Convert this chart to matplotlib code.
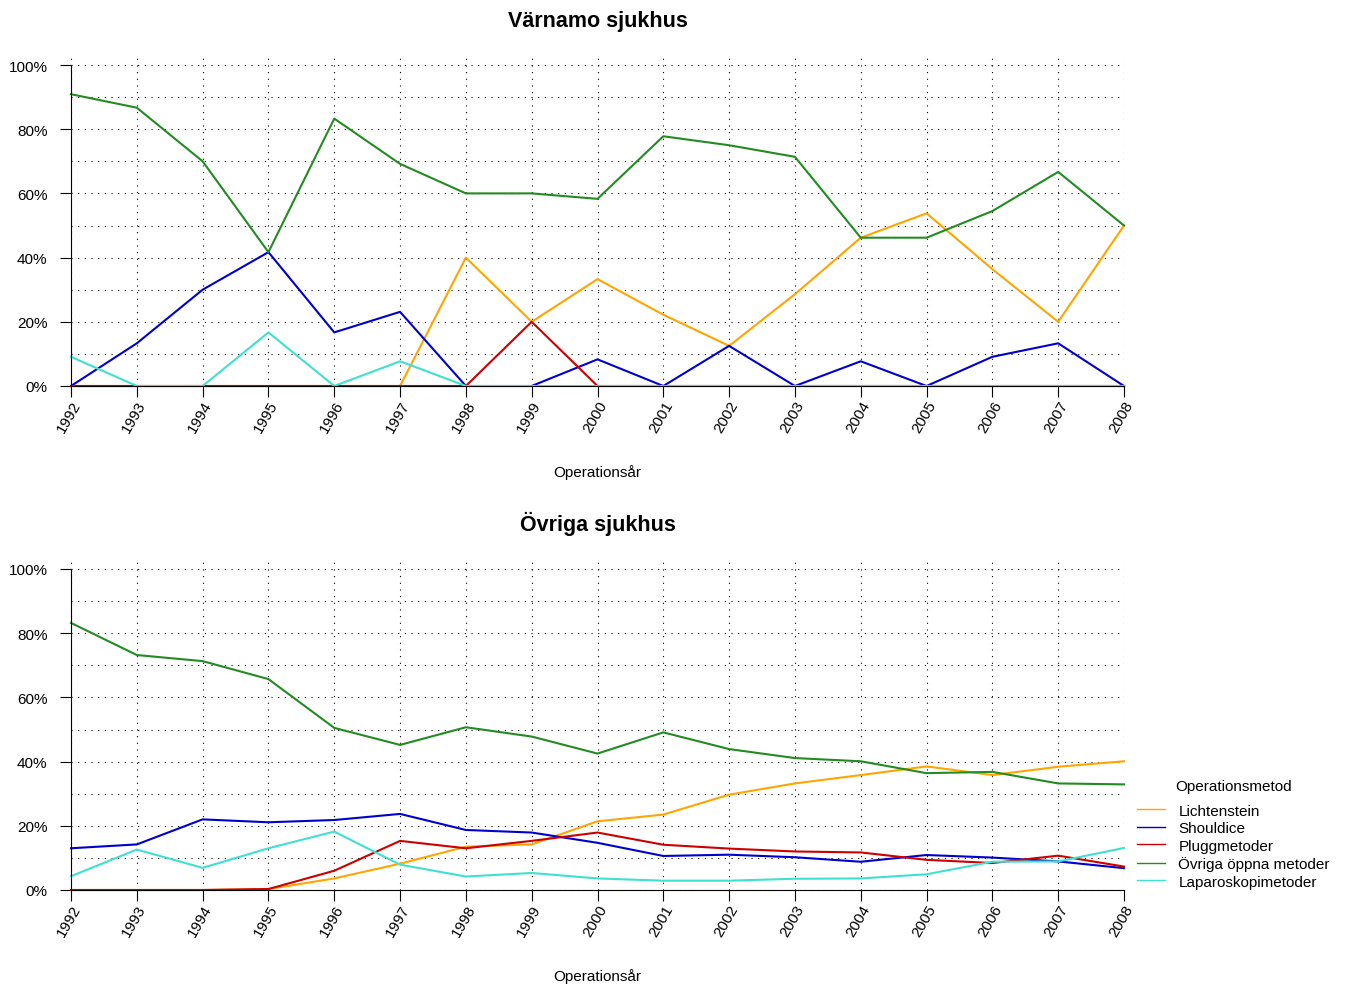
import matplotlib
matplotlib.use("Agg")
import matplotlib.pyplot as plt
from matplotlib.ticker import FuncFormatter, MultipleLocator

plt.rcParams['font.family'] = ['Liberation Sans', 'DejaVu Sans']

years = list(range(1992, 2009))
methods = ["Lichtenstein", "Shouldice", "Pluggmetoder", "Övriga öppna metoder", "Laparoskopimetoder"]
colors = ["#FFA500", "#0000CD", "#CD0000", "#228B22", "#40E0D0"]

# Värnamo sjukhus (%)
varnamo_lichtenstein = [0, 0, 0, 0, 0, 0, 40, 20, 33.3, 22.2, 12.5, 28.6, 46.2, 53.8, 36.4, 20, 50]
varnamo_shouldice = [0, 13.3, 30, 41.7, 16.7, 23.1, 0, 0, 8.3, 0, 12.5, 0, 7.7, 0, 9.1, 13.3, 0]
varnamo_plugg = [0, 0, 0, 0, 0, 0, 0, 20, 0, 0, 0, 0, 0, 0, 0, 0, 0]
varnamo_ovriga = [90.9, 86.7, 70, 41.7, 83.3, 69.2, 60, 60, 58.3, 77.8, 75, 71.4, 46.2, 46.2, 54.5, 66.7, 50]
varnamo_laparo = [9.1, 0, 0, 16.7, 0, 7.7, 0, 0, 0, 0, 0, 0, 0, 0, 0, 0, 0]

# Övriga sjukhus (%)
ovriga_lichtenstein = [0, 0, 0, 0.3, 3.6, 8.2, 13.5, 14.2, 21.4, 23.5, 29.7, 33.2, 35.8, 38.5, 35.8, 38.4, 40.1]
ovriga_shouldice = [13.0, 14.2, 22.0, 21.1, 21.8, 23.7, 18.7, 17.9, 14.7, 10.6, 11.0, 10.2, 8.8, 10.9, 10.1, 8.9, 6.8]
ovriga_plugg = [0, 0, 0, 0.3, 6.0, 15.3, 13.0, 15.3, 17.9, 14.1, 12.9, 12.0, 11.7, 9.4, 8.4, 10.7, 7.3]
ovriga_ovriga = [83.2, 73.2, 71.3, 65.7, 50.5, 45.2, 50.7, 47.8, 42.5, 49.1, 43.9, 41.1, 40.1, 36.4, 36.8, 33.2, 32.9]
ovriga_laparo = [4.3, 12.6, 6.9, 13.0, 18.2, 7.9, 4.2, 5.3, 3.6, 2.9, 2.9, 3.5, 3.6, 4.9, 8.8, 8.9, 13.1]

panels = [
    ("Värnamo sjukhus", [varnamo_lichtenstein, varnamo_shouldice, varnamo_plugg, varnamo_ovriga, varnamo_laparo]),
    ("Övriga sjukhus", [ovriga_lichtenstein, ovriga_shouldice, ovriga_plugg, ovriga_ovriga, ovriga_laparo]),
]

W, H = 1348, 987
fig = plt.figure(figsize=(W / 100, H / 100), dpi=100)

left = 71 / W
width = (1124 - 71) / W
axes_pos = [(387, 55), (891, 559)]  # (bottom px, top px)
dots = (0, (1, 5))

handles = []
for (title, series), (bpx, tpx) in zip(panels, axes_pos):
    ax = fig.add_axes([left, 1 - bpx / H, width, (bpx - tpx) / H])
    ymax = 100 * (bpx - tpx) / (bpx - (tpx + 11))
    ax.set_xlim(1992, 2008)
    ax.set_ylim(0, ymax)
    for vals, col, name in zip(series, colors, methods):
        h, = ax.plot(years, vals, color=col, lw=1.5, label=name, zorder=3, clip_on=False)
        if len(handles) < len(methods):
            handles.append(h)
    ax.yaxis.set_major_locator(MultipleLocator(20))
    ax.yaxis.set_minor_locator(MultipleLocator(10))
    ax.set_xticks(years)
    ax.set_xticklabels([str(y) for y in years], rotation=60, ha='right', va='top',
                       rotation_mode='anchor', fontsize=11)
    ax.yaxis.set_major_formatter(FuncFormatter(lambda v, p: f"{int(round(v))}%"))
    ax.tick_params(axis='y', which='major', labelsize=11, length=8, direction='out', pad=9)
    ax.tick_params(axis='y', which='minor', length=0)
    ax.tick_params(axis='x', length=8, direction='out', pad=1)
    ax.grid(True, which='both', axis='y', color='black', linestyle=dots, lw=0.8)
    ax.grid(True, which='major', axis='x', color='black', linestyle=dots, lw=0.8)
    ax.set_axisbelow(True)
    for s in ['top', 'right']:
        ax.spines[s].set_visible(False)
    ax.spines['left'].set_bounds(0, 100)
    ax.spines['bottom'].set_bounds(1992, 2008)
    ax.spines['left'].set_zorder(4)
    ax.spines['bottom'].set_zorder(4)
    ax.set_title(title, fontsize=15.5, fontweight='bold', pad=20)
    ax.set_xlabel("Operationsår", fontsize=11, labelpad=21)

leg = fig.legend(handles=handles, labels=methods, title="Operationsmetod", loc='center left',
                 bbox_to_anchor=(1131 / W, 1 - 835 / H), frameon=False, fontsize=11,
                 title_fontsize=11, handlelength=1.85, handletextpad=0.85, labelspacing=0.23,
                 borderaxespad=0)
leg._legend_box.sep = 7.5
for lh in leg.get_lines():
    lh.set_linewidth(1.0)

fig.savefig("out.png", dpi=100)
